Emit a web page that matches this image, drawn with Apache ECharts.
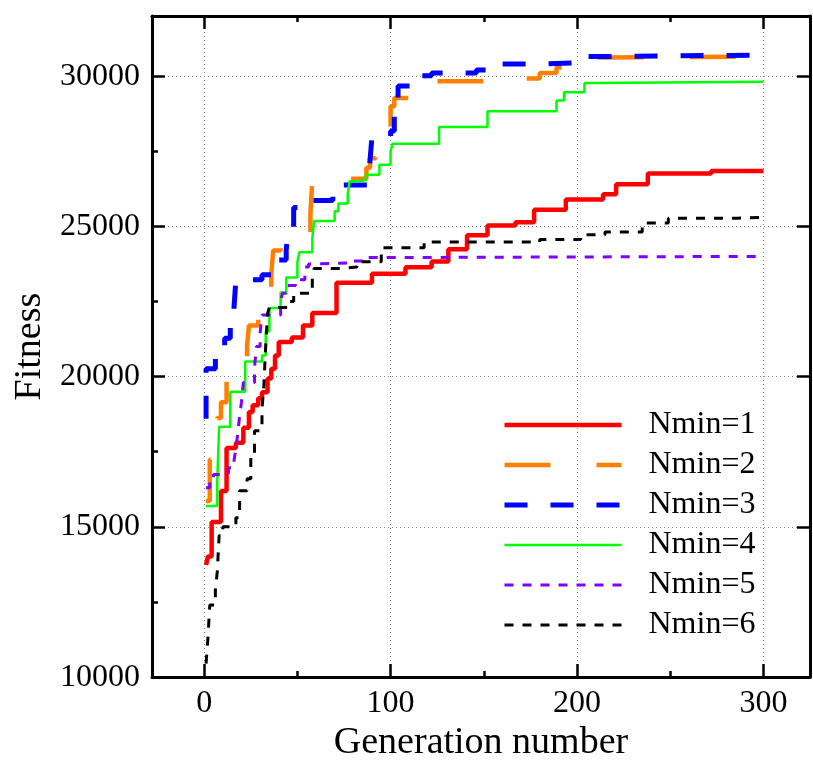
<!DOCTYPE html>
<html>
<head>
<meta charset="utf-8">
<script src="https://cdn.jsdelivr.net/npm/echarts@6/dist/echarts.min.js"></script>
<style>html,body{margin:0;padding:0;background:#fff}#c{width:813px;height:767px}</style>
</head>
<body>
<div id="c"></div>
<script>
var seriesNames = ['Nmin=1','Nmin=2','Nmin=3','Nmin=4','Nmin=5','Nmin=6'];

var nmin1Gen = [1, 2, 4, 9, 12, 17, 21, 24, 26, 29, 31, 34, 36, 38, 40, 47, 53, 58, 71, 90, 108, 122, 131, 141, 152, 167, 177, 194, 214, 221, 238, 272, 300];
var nmin1Fit = [13730, 14010, 15160, 16190, 17620, 17800, 18300, 18820, 19050, 19280, 19480, 19940, 20260, 20700, 21150, 21300, 21700, 22120, 23120, 23420, 23640, 23830, 24240, 24700, 25030, 25140, 25550, 25890, 26070, 26400, 26760, 26840, 26840];

var nmin2Gen = [1, 3, 6, 7, 9, 12, 18, 23, 24, 29, 33, 36, 37, 41, 57, 58, 60, 87, 89, 92, 94, 100, 102, 114, 157, 180, 189, 202, 210, 300];
var nmin2Fit = [15860, 17240, 18000, 18620, 19150, 19940, 20500, 21020, 21700, 22240, 22800, 23420, 24200, 24740, 25460, 26510, 26580, 26950, 27270, 27380, 27930, 29000, 29270, 29830, 29920, 30100, 30290, 30620, 30650, 30650];

var nmin3Gen = [1, 1, 6, 11, 14, 16, 17, 31, 36, 44, 45, 48, 55, 69, 74, 88, 89, 90, 100, 102, 104, 111, 122, 146, 158, 181, 206, 211, 300];
var nmin3Fit = [18600, 20260, 20620, 21280, 21780, 22300, 23220, 23390, 23880, 24200, 24900, 25630, 25860, 26020, 26380, 26570, 27230, 27980, 28170, 29120, 29670, 30010, 30100, 30200, 30400, 30450, 30650, 30700, 30700];

var nmin4Gen = [1, 7, 8, 14, 22, 31, 33, 35, 41, 44, 50, 51, 58, 59, 70, 72, 77, 78, 84, 87, 94, 100, 101, 126, 152, 189, 193, 204, 210, 300];
var nmin4Fit = [15690, 16520, 18330, 19500, 20500, 20700, 21500, 22280, 22800, 23300, 23800, 24140, 24600, 25180, 25500, 25760, 26050, 26500, 26560, 26720, 27050, 27500, 27750, 28310, 28830, 29190, 29460, 29770, 29810, 29810];

var nmin5Gen = [1, 3, 5, 13, 16, 17, 18, 19, 20, 21, 27, 28, 30, 31, 41, 42, 44, 49, 54, 56, 61, 77, 86, 92, 300];
var nmin5Fit = [16300, 16520, 16740, 16970, 17200, 17600, 18100, 18700, 19150, 19800, 20300, 21000, 21450, 22050, 22500, 22770, 23030, 23220, 23650, 23750, 23780, 23850, 23960, 24000, 24000];

var nmin6Gen = [1, 2, 3, 6, 7, 8, 10, 17, 19, 23, 25, 27, 31, 32, 33, 34, 35, 46, 48, 58, 59, 74, 82, 95, 118, 180, 202, 215, 235, 249, 286, 300];
var nmin6Fit = [10450, 11300, 12400, 12900, 13500, 14700, 15000, 15300, 16200, 16600, 17400, 18200, 18900, 19700, 21000, 22100, 22300, 22500, 22770, 23300, 23600, 23650, 23820, 24290, 24480, 24560, 24720, 24810, 25110, 25270, 25300, 25300];

var xTickLabels = [0, 100, 200, 300];
var yTickLabels = [10000, 15000, 20000, 25000, 30000];

var gens = [nmin1Gen, nmin2Gen, nmin3Gen, nmin4Gen, nmin5Gen, nmin6Gen];
var fits = [nmin1Fit, nmin2Fit, nmin3Fit, nmin4Fit, nmin5Fit, nmin6Fit];
var colors = ['#ff0000', '#ff8000', '#0000ff', '#00ff00', '#8000ff', '#000000'];
var widths = [4.5, 4.5, 5, 2.5, 3, 3];
var dashes = ['solid', [46, 46], [23, 23], 'solid', [9, 9], [9, 9]];

function pairs(g, f) { return g.map(function (x, i) { return [x, f[i]]; }); }

var FONT = 'Liberation Serif';
var series = seriesNames.map(function (n, i) {
  return {
    name: n, type: 'line', step: 'end', symbol: 'none', showSymbol: false,
    data: pairs(gens[i], fits[i]),
    lineStyle: { color: colors[i], width: widths[i], type: dashes[i], cap: 'butt' },
    itemStyle: { color: colors[i] },
    z: 3 + i
  };
});

var axisLine = { show: true, onZero: false, lineStyle: { color: '#000', width: 3 } };
var gridLine = { show: true, lineStyle: { color: '#888', width: 1, type: [1, 3] } };

var chart = echarts.init(document.getElementById('c'), null, { renderer: 'canvas' });
chart.setOption({
  animation: false,
  backgroundColor: '#fff',
  grid: { left: 152, right: 1, top: 16, bottom: 82, containLabel: false },
  legend: {
    orient: 'vertical', left: 502, top: 409, padding: 0,
    itemWidth: 117, itemHeight: 14, itemGap: 8,
    textStyle: { fontFamily: FONT, fontSize: 32, color: '#000', lineHeight: 31, padding: [0, 0, 0, 22] },
    lineStyle: { width: 'inherit', type: 'inherit' },
    itemStyle: { opacity: 0, borderWidth: 0 },
    data: seriesNames
  },
  xAxis: [{
    type: 'value', position: 'bottom', min: -28, max: 325, splitNumber: 4,
    axisLine: axisLine,
    axisTick: { show: true, inside: true, length: 13, lineStyle: { color: '#000', width: 2.5 } },
    minorTick: { show: true, splitNumber: 2, length: 6, lineStyle: { color: '#000', width: 2.5 } },
    axisLabel: {
      fontFamily: FONT, fontSize: 32, color: '#000', margin: 10,
      formatter: function (v) { return xTickLabels.indexOf(Math.round(v)) >= 0 && Math.abs(v - Math.round(v)) < 1e-6 ? String(Math.round(v)) : ''; }
    },
    splitLine: gridLine,
    name: 'Generation number', nameLocation: 'middle', nameGap: 42,
    nameTextStyle: { fontFamily: FONT, fontSize: 38, color: '#000' }
  }, {
    type: 'value', position: 'top', min: -28, max: 325, splitNumber: 4,
    axisLine: axisLine,
    axisTick: { show: true, inside: true, length: 13, lineStyle: { color: '#000', width: 2.5 } },
    minorTick: { show: true, splitNumber: 2, length: 6, lineStyle: { color: '#000', width: 2.5 } },
    axisLabel: { show: false }, splitLine: { show: false }
  }],
  yAxis: [{
    type: 'value', position: 'left', min: 10000, max: 32000, interval: 5000,
    axisLine: axisLine,
    axisTick: { show: true, inside: true, length: 13, lineStyle: { color: '#000', width: 2.5 } },
    minorTick: { show: true, splitNumber: 2, length: 6, lineStyle: { color: '#000', width: 2.5 } },
    axisLabel: {
      fontFamily: FONT, fontSize: 32, color: '#000', margin: 12,
      formatter: function (v) { return yTickLabels.indexOf(v) >= 0 ? String(v) : ''; }
    },
    splitLine: gridLine,
    name: 'Fitness', nameLocation: 'middle', nameGap: 102,
    nameTextStyle: { fontFamily: FONT, fontSize: 38, color: '#000', padding: [0, 0, 0, 0] }
  }, {
    type: 'value', position: 'right', min: 10000, max: 32000, interval: 5000,
    axisLine: axisLine,
    axisTick: { show: true, inside: true, length: 13, lineStyle: { color: '#000', width: 2.5 } },
    axisLabel: { show: false }, splitLine: { show: false }
  }],
  series: series
});
</script>
</body>
</html>
